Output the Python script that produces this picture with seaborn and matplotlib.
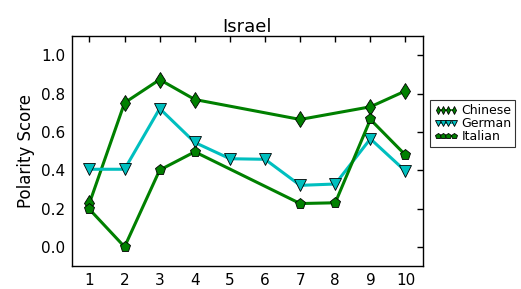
import numpy as np
import pandas as pd
import matplotlib
matplotlib.use("Agg")
import matplotlib.pyplot as plt
import seaborn as sns

# data
positions = [1, 2, 3, 4, 5, 6, 7, 8, 9, 10]
chinese = [0.228, 0.752, 0.873, 0.769, np.nan, np.nan, 0.665, np.nan, 0.731, 0.814]
german = [0.405, 0.405, 0.722, 0.545, 0.46, 0.457, 0.321, 0.328, 0.564, 0.395]
italian = [0.196, 0.0, 0.401, 0.496, np.nan, np.nan, 0.226, 0.23, 0.665, 0.479]

sns.set_style("white")
plt.rcParams['font.family'] = ['DejaVu Sans']
plt.rcParams['text.color'] = 'black'
plt.rcParams['axes.labelcolor'] = 'black'

fig = plt.figure(figsize=(5.21, 2.89), dpi=100)
ax = fig.add_axes([0.138, 0.0796, 0.674, 0.7954])

series = [
    ("Chinese", chinese, (0, 0.5, 0), "d"),
    ("German", german, (0, 0.75, 0.75), "v"),
    ("Italian", italian, (0, 0.5, 0), "p"),
]
for name, vals, col, mk in series:
    df = pd.DataFrame({"x": positions, "y": vals}).dropna()
    sns.lineplot(data=df, x="x", y="y", ax=ax, color=col, marker=mk,
                 markersize=8, markeredgecolor="black", markeredgewidth=0.6,
                 linewidth=2.2, label=name)

ax.set_xlim(0.5, 10.5)
ax.set_ylim(-0.1, 1.1)
ax.set_xticks(positions)
ax.set_yticks([0.0, 0.2, 0.4, 0.6, 0.8, 1.0])
ax.set_yticklabels(["0.0", "0.2", "0.4", "0.6", "0.8", "1.0"])
ax.tick_params(direction="in", top=True, right=True, length=4, width=1,
               labelsize=11, colors="black", pad=5)
for s in ax.spines.values():
    s.set_color("black")
    s.set_linewidth(1)
ax.set_xlabel("")
ax.set_ylabel("Polarity Score", fontsize=12, color="black")
ax.set_title("Israel", fontsize=13, pad=3, color="black")

leg = ax.legend(loc="center left", bbox_to_anchor=(1.02, 0.62), numpoints=4,
                handlelength=1.9, handletextpad=0.3, labelspacing=0.0,
                borderpad=0.3, markerscale=0.5, fontsize=9, frameon=True,
                fancybox=False, edgecolor="black", borderaxespad=0)
leg.get_frame().set_linewidth(0.8)
for line in leg.get_lines():
    line.set_linewidth(1.2)

fig.savefig("out.png", dpi=100)
